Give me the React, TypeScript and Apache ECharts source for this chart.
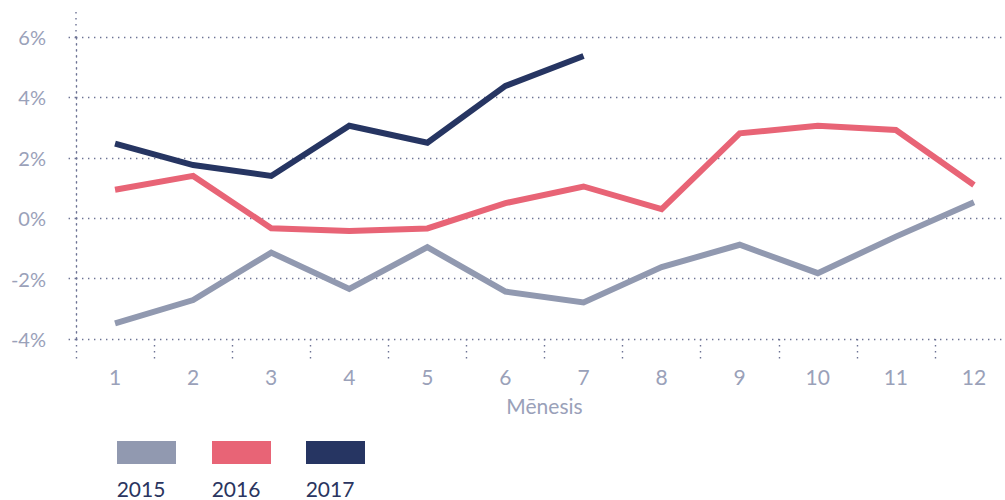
import React, { useEffect, useRef } from "react";
import * as echarts from "echarts";

const months = ["1", "2", "3", "4", "5", "6", "7", "8", "9", "10", "11", "12"];
const seriesNames = ["2015", "2016", "2017"];
const seriesColors = ["#9199b0", "#e86476", "#263562"];
const values2015 = [-3.48, -2.71, -1.14, -2.34, -0.96, -2.43, -2.79, -1.62, -0.88, -1.82, -0.61, 0.53];
const values2016 = [0.94, 1.4, -0.33, -0.42, -0.34, 0.5, 1.05, 0.3, 2.81, 3.06, 2.92, 1.1];
const values2017 = [2.47, 1.76, 1.4, 3.06, 2.5, 4.38, 5.37];
const yTicks = { min: -4, max: 6, interval: 2 };
const axisName = "Mēnesis";

const FONT = "Lato, 'Open Sans', sans-serif";
const LABEL_COLOR = "#9aa1b9";
const DOT_COLOR = "#6d7394";
const dotted = { color: DOT_COLOR, width: 1.4, type: [1.4, 4.6] as any };

export default function App() {
  const ref = useRef<HTMLDivElement>(null);
  useEffect(() => {
    if (!ref.current) return;
    const chart = echarts.init(ref.current, null, { renderer: "svg" });
    const allValues = [values2015, values2016, values2017];
    const legendX = [117, 212, 306];
    chart.setOption({
      animation: false,
      grid: {
        left: 76,
        width: 937,
        top: 37,
        bottom: 161,
        containLabel: false,
        outerBoundsMode: "none",
      },
      xAxis: {
        type: "category",
        data: months,
        boundaryGap: true,
        axisLine: { show: false, onZero: false },
        axisTick: { show: true, length: 23, lineStyle: dotted, alignWithLabel: false },
        axisLabel: { color: LABEL_COLOR, fontSize: 21, fontFamily: FONT, margin: 27 },
        name: axisName,
        nameLocation: "middle",
        nameGap: 56,
        nameTextStyle: { color: LABEL_COLOR, fontSize: 21, fontFamily: FONT },
        splitLine: { show: false },
      },
      yAxis: {
        type: "value",
        min: yTicks.min,
        max: yTicks.max,
        interval: yTicks.interval,
        axisLine: { show: true, lineStyle: dotted },
        axisTick: { show: true, length: 9, lineStyle: dotted },
        axisLabel: {
          color: LABEL_COLOR,
          fontSize: 20,
          fontFamily: FONT,
          margin: 30,
          formatter: (v: number) => `${v}%`,
        },
        splitLine: { show: true, lineStyle: dotted },
      },
      series: seriesNames.map((name, i) => ({
        name,
        type: "line",
        data: allValues[i],
        symbol: "none",
        lineStyle: { color: seriesColors[i], width: 6, join: "miter" },
        itemStyle: { color: seriesColors[i] },
        z: 3 + i,
      })),
      graphic: [
        {
          type: "line",
          shape: { x1: 76, y1: 12, x2: 76, y2: 37 },
          style: { stroke: DOT_COLOR, lineWidth: 1.4, lineDash: [1.4, 4.6] },
          silent: true,
        },
        ...seriesNames.flatMap((name, i) => [
          {
            type: "rect",
            shape: { x: legendX[i], y: 441, width: 59, height: 23 },
            style: { fill: seriesColors[i] },
          },
          {
            type: "text",
            x: legendX[i] + 24,
            y: 488,
            style: {
              text: name,
              fill: "#2a3560",
              fontSize: 21,
              lineHeight: 20,
              fontFamily: FONT,
              align: "center",
              verticalAlign: "middle",
            },
          },
        ]),
      ],
    });
    return () => chart.dispose();
  }, []);
  return (
    <div
      ref={ref}
      style={{ position: "absolute", left: 0, top: 0, width: 1005, height: 500 }}
    />
  );
}
